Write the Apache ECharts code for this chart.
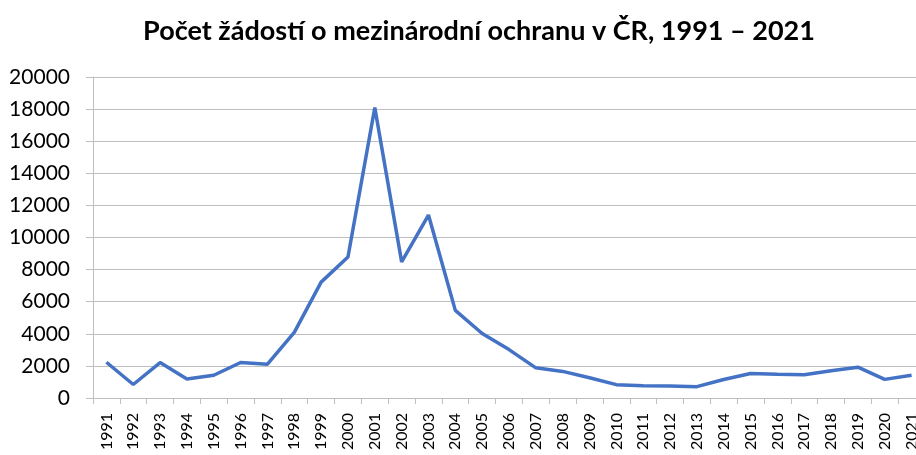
<!DOCTYPE html>
<html>
<head>
<meta charset="utf-8">
<script src="https://cdn.jsdelivr.net/npm/echarts@6/dist/echarts.min.js"></script>
<style>
  html, body { margin: 0; padding: 0; background: #fff; }
  #chart { width: 916px; height: 455px; }
</style>
</head>
<body>
<div id="chart"></div>
<script>
// data
const years = ['1991', '1992', '1993', '1994', '1995', '1996', '1997', '1998', '1999', '2000',
  '2001', '2002', '2003', '2004', '2005', '2006', '2007', '2008', '2009', '2010',
  '2011', '2012', '2013', '2014', '2015', '2016', '2017', '2018', '2019', '2020', '2021']
const applications = [2226, 841, 2207, 1187, 1417, 2211, 2109, 4086, 7220, 8788,
  18094, 8484, 11400, 5459, 4021, 3016, 1878, 1656, 1258, 833,
  756, 753, 707, 1156, 1525, 1478, 1450, 1702, 1922, 1160, 1411]

const font = 'Lato, "Open Sans", "Liberation Sans", sans-serif'

const chart = echarts.init(document.getElementById('chart'))

chart.setOption({
  animation: false,
  title: {
    text: 'Počet žádostí o mezinárodní ochranu v ČR, 1991 – 2021',
    left: 474,
    textAlign: 'center',
    top: 13,
    textStyle: { fontFamily: font, fontSize: 27, fontWeight: 'bold', color: '#000' }
  },
  grid: { left: 93, width: 832, top: 77, bottom: 57, containLabel: false, outerBoundsMode: 'none' },
  xAxis: {
    type: 'category',
    data: years,
    boundaryGap: true,
    axisLine: { lineStyle: { color: '#bfbfbf', width: 1 } },
    axisTick: { show: true, length: 6, lineStyle: { color: '#bfbfbf' } },
    axisLabel: { rotate: 90, interval: 0, margin: 15, fontFamily: font, fontSize: 16, color: '#000' }
  },
  yAxis: {
    type: 'value',
    min: 0,
    max: 20000,
    interval: 2000,
    axisLine: { show: true, lineStyle: { color: '#bfbfbf', width: 1 } },
    axisTick: { show: true, length: 7, lineStyle: { color: '#bfbfbf' } },
    axisLabel: { margin: 23, fontFamily: font, fontSize: 21, color: '#000', formatter: v => String(v) },
    splitLine: { lineStyle: { color: '#bfbfbf', width: 1 } }
  },
  series: [
    {
      type: 'line',
      data: applications,
      symbol: 'none',
      lineStyle: { color: '#4472c4', width: 3.5 },
      itemStyle: { color: '#4472c4' }
    }
  ]
})
</script>
</body>
</html>
